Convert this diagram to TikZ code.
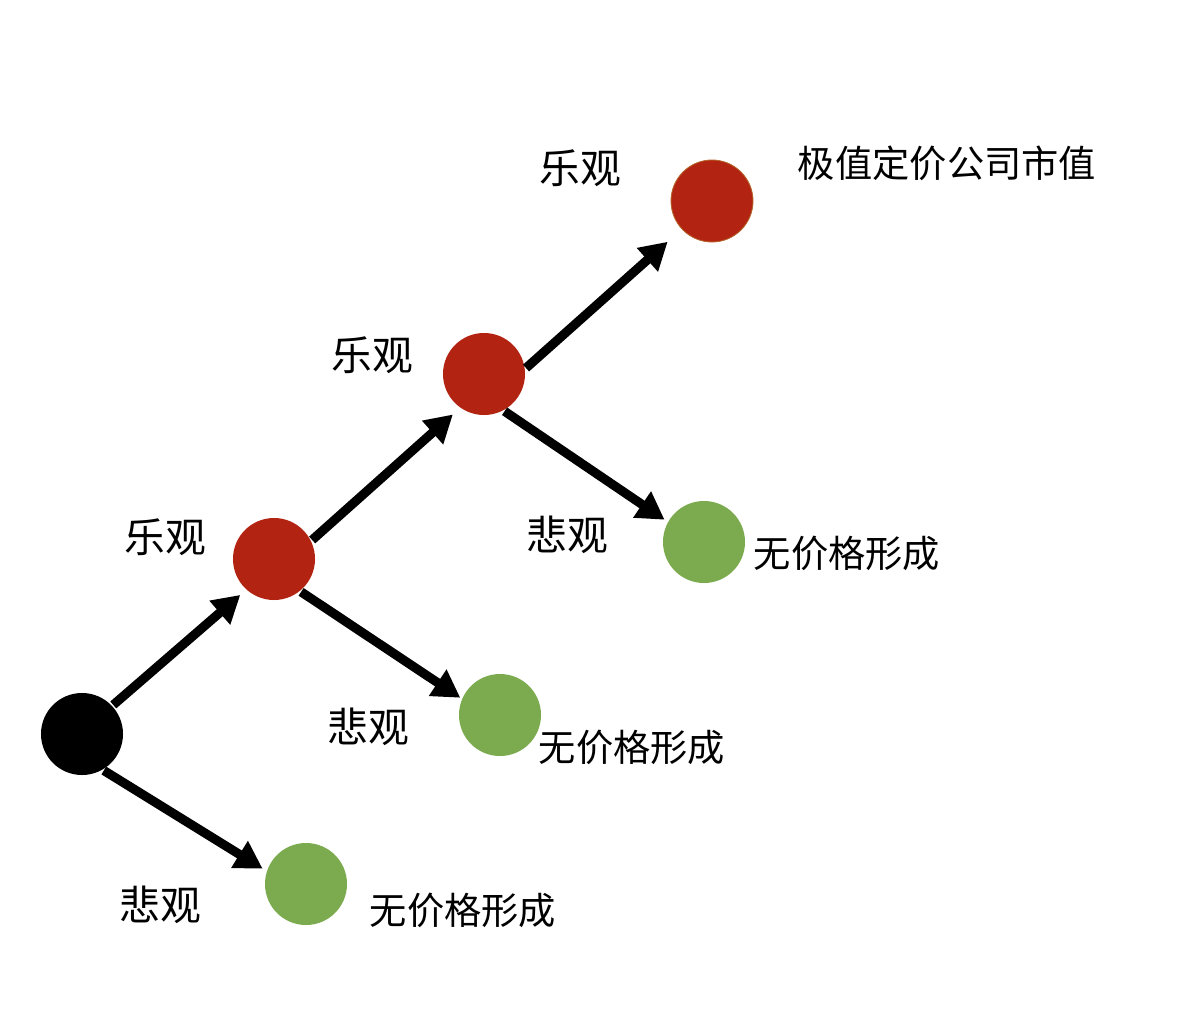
\documentclass[tikz,border=0pt]{standalone}
\usepackage{fontspec}
\newfontfamily\cjk{Noto Sans CJK SC}
\usepackage{tikz}
\usetikzlibrary{arrows.meta}
\definecolor{BullRed}{HTML}{B22312}
\definecolor{BearGreen}{HTML}{7BAB4E}
\definecolor{RimBrown}{HTML}{B5652A}

\tikzset{
  state/.style={circle, minimum size=2.05cm, inner sep=0pt},
  bull/.style={state, fill=BullRed},
  bear/.style={state, fill=BearGreen},
  word/.style={font=\cjk\fontsize{29}{32}\selectfont, text=black, inner sep=0pt},
  note/.style={word, font=\cjk\fontsize{26.5}{30}\selectfont},
  arr/.style={line width=6.5pt, -{Triangle[length=0.68cm, width=0.75cm]}, shorten <=1pt}
}

\begin{document}
\begin{tikzpicture}[x=0.025cm, y=-0.025cm]
  \useasboundingbox (0,0) rectangle (1196,1012);

  % states
  \node[state, fill=black] (start) at (82,734) {};
  \node[bull] (up1) at (274,559) {};
  \node[bull] (up2) at (484,374) {};
  \node[bull, draw=RimBrown, line width=0.6pt] (up3) at (712,201) {};
  \node[bear] (down1) at (306,884) {};
  \node[bear] (down2) at (500,715) {};
  \node[bear] (down3) at (704,542) {};

  % moves
  \draw[arr, shorten >=0.2cm] (start.43) -- (up1.228);
  \draw[arr, shorten >=0.12cm] (start.-60) -- (down1.162);
  \draw[arr, shorten >=0.25cm] (up1.26) -- (up2.235);
  \draw[arr, shorten >=0.05cm] (up1.-51) -- (down2.157);
  \draw[arr, shorten >=0.47cm] (up2.7) -- (up3.223);
  \draw[arr, shorten >=0.1cm] (up2.-62) -- (down3.151);

  % labels
  \node[word] (le1) at (165,537) {乐观};
  \node[word] (le2) at (372,355) {乐观};
  \node[word] (le3) at (580,168) {乐观};
  \node[word] (bei1) at (160,905) {悲观};
  \node[word] (bei2) at (368,727) {悲观};
  \node[word] (bei3) at (567,535) {悲观};
  \node[note] (top) at (947,163) {极值定价公司市值};
  \node[note] (none1) at (463,910) {无价格形成};
  \node[note] (none2) at (632,747) {无价格形成};
  \node[note] (none3) at (847,553) {无价格形成};
\end{tikzpicture}
\end{document}
